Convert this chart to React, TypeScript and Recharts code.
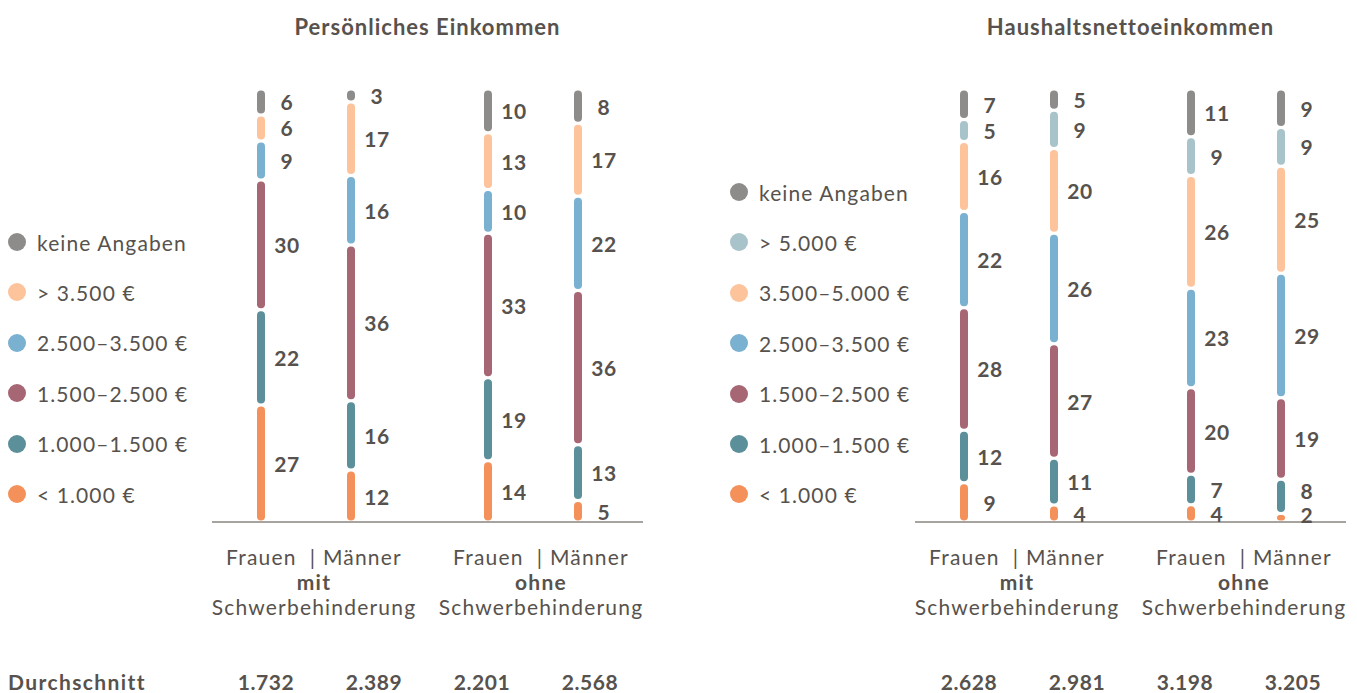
import React from "react";
import { BarChart, Bar, XAxis, YAxis, LabelList } from "recharts";

// Reihenfolge der Balken: Frauen mit, Männer mit, Frauen ohne, Männer ohne (Anteile in %)
const geschlechter = ["Frauen", "Männer"];
const gruppen = ["mit", "ohne"];

// Persönliches Einkommen, von unten nach oben
const persUnter1000 = [27, 12, 14, 5];
const pers1000bis1500 = [22, 16, 19, 13];
const pers1500bis2500 = [30, 36, 33, 36];
const pers2500bis3500 = [9, 16, 10, 22];
const persUeber3500 = [6, 17, 13, 17];
const persKeineAngaben = [6, 3, 10, 8];
const persDurchschnitt = ["1.732", "2.389", "2.201", "2.568"];

// Haushaltsnettoeinkommen, von unten nach oben
const hhUnter1000 = [9, 4, 4, 2];
const hh1000bis1500 = [12, 11, 7, 8];
const hh1500bis2500 = [28, 27, 20, 19];
const hh2500bis3500 = [22, 26, 23, 29];
const hh3500bis5000 = [16, 20, 26, 25];
const hhUeber5000 = [5, 9, 9, 9];
const hhKeineAngaben = [7, 5, 11, 9];
const hhDurchschnitt = ["2.628", "2.981", "3.198", "3.205"];

const TEXT = "#57524d";
const AXIS = "#8a847e";
const FONT = "Lato, 'Open Sans', sans-serif";

const persSerien = [
  { name: "< 1.000 €", values: persUnter1000, color: "#f4915a" },
  { name: "1.000–1.500 €", values: pers1000bis1500, color: "#5b8f9a" },
  { name: "1.500–2.500 €", values: pers1500bis2500, color: "#a66673" },
  { name: "2.500–3.500 €", values: pers2500bis3500, color: "#7ab0d0" },
  { name: "> 3.500 €", values: persUeber3500, color: "#fdc39b" },
  { name: "keine Angaben", values: persKeineAngaben, color: "#8e8c8a" },
];

const hhSerien = [
  { name: "< 1.000 €", values: hhUnter1000, color: "#f4915a" },
  { name: "1.000–1.500 €", values: hh1000bis1500, color: "#5b8f9a" },
  { name: "1.500–2.500 €", values: hh1500bis2500, color: "#a66673" },
  { name: "2.500–3.500 €", values: hh2500bis3500, color: "#7ab0d0" },
  { name: "3.500–5.000 €", values: hh3500bis5000, color: "#fdc39b" },
  { name: "> 5.000 €", values: hhUeber5000, color: "#a9c3ca" },
  { name: "keine Angaben", values: hhKeineAngaben, color: "#8e8c8a" },
];

type Serie = { name: string; values: number[]; color: string };

function buildRows(serien: Serie[], gi: number) {
  return geschlechter.map((g, si) => {
    const row: Record<string, any> = { name: g };
    serien.forEach((s, k) => {
      row["s" + k] = s.values[gi * 2 + si];
    });
    return row;
  });
}

const Pill = (props: any) => {
  const { x, y, width, height, fill } = props;
  const w = 8;
  const gap = 1.5;
  const h = Math.max(height - gap * 2, 0);
  const r = Math.min(w / 2, h / 2);
  return <rect x={x + width / 2 - w / 2} y={y + gap} width={w} height={h} rx={r} ry={r} fill={fill} />;
};

const TOP_PAD = 14;
const PLOT_H = 433;
const LABEL_STEP = 24;

// label positions: segment centre, pushed up when the label below would collide
function labelOffsets(vals: number[]) {
  const total = vals.reduce((a, b) => a + b, 0);
  const base = TOP_PAD + PLOT_H;
  const out: number[] = [];
  let cum = 0;
  vals.forEach((v, k) => {
    let cy = base - ((cum + v / 2) / total) * PLOT_H;
    if (k === 0) cy = Math.min(cy, base - 8);
    else cy = Math.min(cy, out[k - 1] - LABEL_STEP);
    out.push(cy);
    cum += v;
  });
  return out;
}

const ValueLabel = (props: any) => {
  const vb = props.viewBox || props;
  const { x, width } = vb;
  return (
    <text
      x={x + width / 2 + 26}
      y={props.cy}
      textAnchor="middle"
      dominantBaseline="central"
      fill={TEXT}
      fontFamily={FONT}
      fontWeight={700}
      fontSize={21}
      letterSpacing={0.6}
    >
      {props.value}
    </text>
  );
};

const PLOT_TOP = 89;

function GroupChart({ serien, gi, left, width, padL, padR }: any) {
  const rows = buildRows(serien, gi);
  const offsets = rows.map((r) => labelOffsets(serien.map((_: Serie, k: number) => r["s" + k])));
  return (
    <div style={{ position: "absolute", left, top: PLOT_TOP - TOP_PAD }}>
      <BarChart
        width={width}
        height={TOP_PAD + PLOT_H + 14}
        data={rows}
        stackOffset="expand"
        margin={{ top: TOP_PAD, right: 0, bottom: 0, left: 0 }}
        barCategoryGap={0}
      >
        <XAxis
          dataKey="name"
          tick={false}
          tickLine={false}
          height={14}
          padding={{ left: padL, right: padR }}
          axisLine={{ stroke: AXIS, strokeWidth: 1.5 }}
        />
        <YAxis hide domain={[0, 1]} />
        {serien.map((s: Serie, k: number) => (
          <Bar
            key={k}
            dataKey={"s" + k}
            name={s.name}
            stackId="a"
            fill={s.color}
            barSize={8}
            shape={<Pill />}
            isAnimationActive={false}
          >
            <LabelList
              dataKey={"s" + k}
              content={(p: any) => <ValueLabel {...p} cy={offsets[p.index ?? 0][k]} />}
            />
          </Bar>
        ))}
      </BarChart>
    </div>
  );
}

function Legend({ serien, left, firstY }: any) {
  const items = [...serien].reverse();
  return (
    <>
      {items.map((s: Serie, i: number) => (
        <div
          key={s.name}
          style={{
            position: "absolute",
            left: left - 9,
            top: firstY + i * 50.4 - 15,
            height: 30,
            display: "flex",
            alignItems: "center",
            whiteSpace: "nowrap",
            fontSize: 21,
            letterSpacing: 1.1,
            color: TEXT,
          }}
        >
          <span
            style={{
              display: "inline-block",
              width: 18,
              height: 18,
              borderRadius: 9,
              background: s.color,
              marginRight: 11,
            }}
          />
          {s.name}
        </div>
      ))}
    </>
  );
}

function Panel({ title, serien, left, durchschnitt }: any) {
  const groupLabelCenters = [102, 329];
  return (
    <>
      <div
        style={{
          position: "absolute",
          left,
          width: 431,
          top: 13,
          textAlign: "center",
          fontWeight: 700,
          fontSize: 22,
          letterSpacing: 1,
          color: TEXT,
        }}
      >
        {title}
      </div>
      <GroupChart serien={serien} gi={0} left={left} width={208} padL={4} padR={24} />
      <GroupChart serien={serien} gi={1} left={left + 208} width={223} padL={23} padR={20} />
      {gruppen.map((g, i) => (
        <div
          key={g}
          style={{
            position: "absolute",
            left: left + groupLabelCenters[i] - 130,
            width: 260,
            top: 544,
            textAlign: "center",
            fontSize: 21,
            letterSpacing: 1.2,
            lineHeight: "25px",
            color: TEXT,
          }}
        >
          <div style={{ whiteSpace: "pre" }}>{geschlechter[0] + "  | " + geschlechter[1]}</div>
          <div style={{ fontWeight: 700 }}>{g}</div>
          <div>Schwerbehinderung</div>
        </div>
      ))}
      {durchschnitt.map((d: string, i: number) => (
        <div
          key={i}
          style={{
            position: "absolute",
            left: left + i * 108,
            width: 108,
            top: 669,
            textAlign: "center",
            fontWeight: 700,
            fontSize: 21,
            letterSpacing: 0.6,
            lineHeight: "26px",
            color: TEXT,
          }}
        >
          {d}
        </div>
      ))}
    </>
  );
}

export default function App() {
  return (
    <div
      style={{
        position: "absolute",
        left: 0,
        top: 0,
        width: 1357,
        height: 693,
        background: "#ffffff",
        fontFamily: FONT,
        overflow: "hidden",
      }}
    >
      <Legend serien={persSerien} left={17} firstY={242} />
      <Legend serien={hhSerien} left={739} firstY={192} />
      <Panel title="Persönliches Einkommen" serien={persSerien} left={212} durchschnitt={persDurchschnitt} />
      <Panel title="Haushaltsnettoeinkommen" serien={hhSerien} left={915} durchschnitt={hhDurchschnitt} />
      <div
        style={{
          position: "absolute",
          left: 8,
          top: 669,
          fontWeight: 700,
          fontSize: 21,
          letterSpacing: 1.4,
          lineHeight: "26px",
          color: TEXT,
        }}
      >
        Durchschnitt
      </div>
    </div>
  );
}
